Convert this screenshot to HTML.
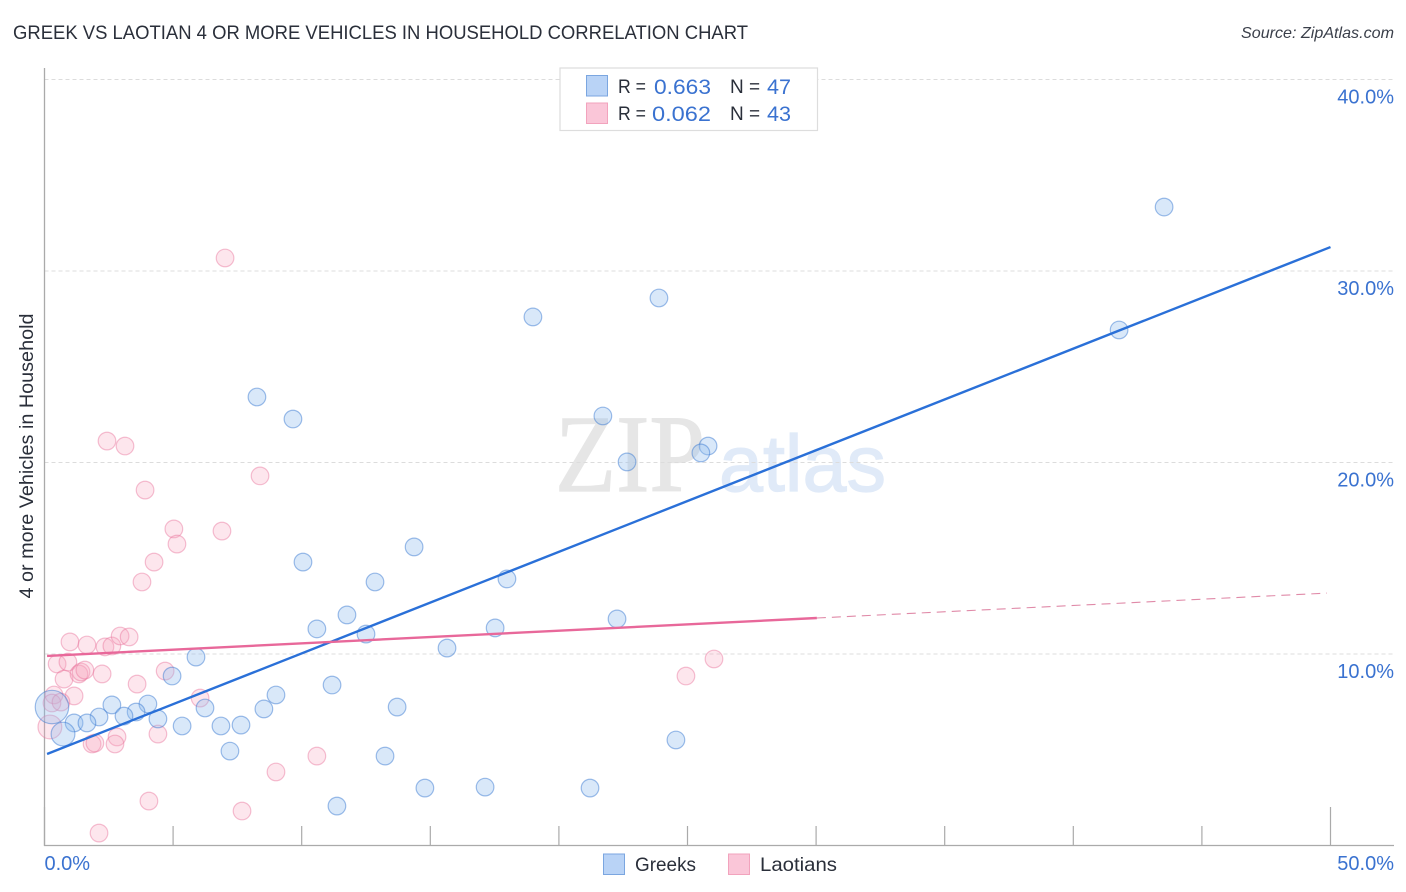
<!DOCTYPE html>
<html>
<head>
<meta charset="utf-8">
<style>
html,body{margin:0;padding:0;background:#fff;}
svg{display:block;}
text{font-family:"Liberation Sans",sans-serif;}
</style>
</head>
<body>
<svg id="chart" width="1406" height="892" viewBox="0 0 1406 892" xmlns="http://www.w3.org/2000/svg">
  <rect x="0" y="0" width="1406" height="892" fill="#ffffff"/>
  <text x="13" y="39" font-size="19" fill="#2a2f3a" textLength="735" lengthAdjust="spacingAndGlyphs">GREEK VS LAOTIAN 4 OR MORE VEHICLES IN HOUSEHOLD CORRELATION CHART</text>
  <text x="1241" y="38" font-size="16" font-style="italic" fill="#3a3f4a" textLength="153" lengthAdjust="spacingAndGlyphs">Source: ZipAtlas.com</text>
  <text x="555" y="491" font-size="110" fill="#e6e6e6" stroke="#e6e6e6" stroke-width="1.2" style="font-family:'Liberation Serif',serif" textLength="150" lengthAdjust="spacingAndGlyphs">ZIP</text>
  <text x="719" y="491" font-size="80" fill="#e0eaf8" stroke="#e0eaf8" stroke-width="1.2" style="font-family:'Liberation Sans',sans-serif" textLength="167" lengthAdjust="spacingAndGlyphs">atlas</text>
  <g id="grid"></g>
  <g id="axes"></g>
  <g id="pinkPts"></g>
  <g id="bluePts"></g>
  <g id="trends"></g>
  <text transform="translate(33,456) rotate(-90)" font-size="19" fill="#2a2f3a" text-anchor="middle" textLength="285" lengthAdjust="spacingAndGlyphs">4 or more Vehicles in Household</text>

  <g>
    <rect x="560" y="68" width="257.5" height="62.5" fill="#ffffff" stroke="#dddddd" stroke-width="1.2"/>
    <rect x="586.5" y="75.5" width="21" height="20.5" fill="#b9d3f6" stroke="#7ba6e0" stroke-width="1"/>
    <rect x="586.5" y="103" width="21" height="20.5" fill="#fac6d8" stroke="#f2a3bd" stroke-width="1"/>
    <text x="618" y="93" font-size="19" fill="#2a2f3a" textLength="28" lengthAdjust="spacingAndGlyphs">R =</text>
    <text x="654" y="94" font-size="21" fill="#3a72d0" textLength="57" lengthAdjust="spacingAndGlyphs">0.663</text>
    <text x="730" y="93" font-size="19" fill="#2a2f3a">N =</text>
    <text x="767" y="94" font-size="21" fill="#3a72d0" textLength="24" lengthAdjust="spacingAndGlyphs">47</text>
    <text x="618" y="120" font-size="19" fill="#2a2f3a" textLength="28" lengthAdjust="spacingAndGlyphs">R =</text>
    <text x="652" y="121" font-size="21" fill="#3a72d0" textLength="59" lengthAdjust="spacingAndGlyphs">0.062</text>
    <text x="730" y="120" font-size="19" fill="#2a2f3a">N =</text>
    <text x="767" y="121" font-size="21" fill="#3a72d0" textLength="24" lengthAdjust="spacingAndGlyphs">43</text>
  </g>

  <g>
    <rect x="603.5" y="854" width="21" height="20.5" fill="#b9d3f6" stroke="#7ba6e0" stroke-width="1"/>
    <text x="635" y="871" font-size="19.5" fill="#2a2f3a" textLength="61" lengthAdjust="spacingAndGlyphs">Greeks</text>
    <rect x="728.5" y="854" width="21" height="20.5" fill="#fac6d8" stroke="#f2a3bd" stroke-width="1"/>
    <text x="760" y="871" font-size="19.5" fill="#2a2f3a" textLength="77" lengthAdjust="spacingAndGlyphs">Laotians</text>
  </g>
</svg>
<script>
var greekX = [43.53,41.78,23.89,18.99,21.71,8.26,9.66,25.80,25.52,22.65,14.37,10.05,12.85,17.98,11.76,22.26,10.59,17.52,12.50,15.65,5.89,4.96,11.18,9.00,2.62,4.02,8.53,6.24,13.71,3.56,3.09,4.41,2.12,1.15,1.65,5.35,6.86,7.64,24.55,7.21,13.24,14.79,17.13,21.21,11.37,0.29,0.72];
var greekY = [33.34,26.92,28.59,27.60,22.43,23.42,22.27,20.86,20.50,20.03,15.59,14.80,13.76,13.92,12.04,11.83,11.31,11.36,11.04,10.31,9.84,8.85,8.38,7.86,7.34,7.39,7.13,7.18,7.23,6.97,6.76,6.61,6.71,6.40,6.40,6.24,6.24,6.29,5.51,4.93,4.67,3.00,3.05,3.00,2.06,7.23,5.82];
var greekWeight = [1,1,1,1,1,1,1,1,1,1,1,1,1,1,1,1,1,1,1,1,1,1,1,1,1,1,1,1,1,1,1,1,1,1,1,1,1,1,1,1,1,1,1,1,1,1.9,1.35];
var laotianX = [0.99,1.65,2.35,2.62,2.94,3.29,0.49,0.91,0.76,1.34,1.42,1.57,2.24,3.60,4.69,6.05,1.15,0.37,0.29,0.64,0.21,4.41,2.82,2.74,1.85,1.96,4.06,7.68,2.12,9.00,10.59,7.02,2.43,3.13,3.91,8.38,5.03,6.90,5.15,4.26,3.79,24.94,26.03];
var laotianY = [10.63,10.47,10.37,10.42,10.94,10.89,9.48,9.58,8.69,8.96,9.06,9.16,8.96,8.43,9.11,7.70,7.81,7.86,7.44,7.49,6.19,5.82,5.67,5.30,5.30,5.35,2.32,1.80,0.65,3.84,4.67,30.68,21.12,20.86,18.56,19.30,16.53,16.42,15.74,14.80,13.76,8.85,9.74];
var laotianWeight = [1,1,1,1,1,1,1,1,1,1,1,1,1,1,1,1,1,1,1,1,1.35,1,1,1,1,1,1,1,1,1,1,1,1,1,1,1,1,1,1,1,1,1,1];
var yTickValues = [10,20,30,40];
var yTickLabels = ["10.0%","20.0%","30.0%","40.0%"];
var xTickValues = [0,5,10,15,20,25,30,35,40,45,50];
var xEdgeValues = [0,50];
var xEdgeLabels = ["0.0%","50.0%"];
var greekTrendX = [0.1,50];
var greekTrendY = [4.78,31.25];
var laotianTrendX = [0.1,30.03];
var laotianTrendY = [9.90,11.88];
var laotianDashX = [30.03,49.86];
var laotianDashY = [11.88,13.18];

var NS = 'http://www.w3.org/2000/svg';
function sx(v){ return 44.5 + v * 25.72; }
function sy(v){ return 845.5 - v * 19.15; }
function mk(tag, parent, attrs){
  var el = document.createElementNS(NS, tag);
  for (var k in attrs) el.setAttribute(k, attrs[k]);
  document.getElementById(parent).appendChild(el);
  return el;
}

yTickValues.forEach(function(v, i){
  var g = mk('line', 'grid', {x1:44.5, x2:1394, y1:sy(v), y2:sy(v), stroke:'#dcdcdc', 'stroke-width':1, 'stroke-dasharray':'4 3'});
  
  
  var t = mk('text', 'axes', {x:1394, y:sy(v) + 24, 'font-size':20, fill:'#3a72d0', 'text-anchor':'end'});
  
  
  t.textContent = yTickLabels[i];
});

var yAxis = mk('line', 'axes', {x1:44.5, x2:44.5, y1:68, y2:846, stroke:'#aaaaaa', 'stroke-width':1.3});


var xAxis = mk('line', 'axes', {x1:44, x2:1394, y1:845.5, y2:845.5, stroke:'#aaaaaa', 'stroke-width':1.3});



xTickValues.forEach(function(v, i){
  var top = (i === 0 || i === xTickValues.length - 1) ? 807 : 826;
  var tk = mk('line', 'axes', {x1:sx(v), x2:sx(v), y1:top, y2:845.5, stroke:'#aaaaaa', 'stroke-width':1.2});
  
  
});

xEdgeValues.forEach(function(v, i){
  var t = mk('text', 'axes', {x: i === 0 ? sx(v) : 1394, y:870, 'font-size':20, fill:'#3a72d0', 'text-anchor': i === 0 ? 'start' : 'end'});
  
  
  t.textContent = xEdgeLabels[i];
});

laotianX.forEach(function(v, i){
  var c = mk('circle', 'pinkPts', {cx:sx(v), cy:sy(laotianY[i]), r:8.8 * laotianWeight[i], fill:'rgba(248,165,192,0.28)', stroke:'rgba(232,115,155,0.45)', 'stroke-width':1.2});
  
  
});

greekX.forEach(function(v, i){
  var c = mk('circle', 'bluePts', {cx:sx(v), cy:sy(greekY[i]), r:8.8 * greekWeight[i], fill:'rgba(145,188,238,0.34)', stroke:'rgba(55,120,210,0.48)', 'stroke-width':1.2});
  
  
});

var tb = mk('line', 'trends', {x1:sx(greekTrendX[0]), y1:sy(greekTrendY[0]), x2:sx(greekTrendX[1]), y2:sy(greekTrendY[1]), stroke:'#2a70d8', 'stroke-width':2.4});


var tp = mk('line', 'trends', {x1:sx(laotianTrendX[0]), y1:sy(laotianTrendY[0]), x2:sx(laotianTrendX[1]), y2:sy(laotianTrendY[1]), stroke:'#e8689a', 'stroke-width':2.4});


var td = mk('line', 'trends', {x1:sx(laotianDashX[0]), y1:sy(laotianDashY[0]), x2:sx(laotianDashX[1]), y2:sy(laotianDashY[1]), stroke:'#e08aa8', 'stroke-width':1.1, 'stroke-dasharray':'9 6'});


</script>
</body>
</html>
